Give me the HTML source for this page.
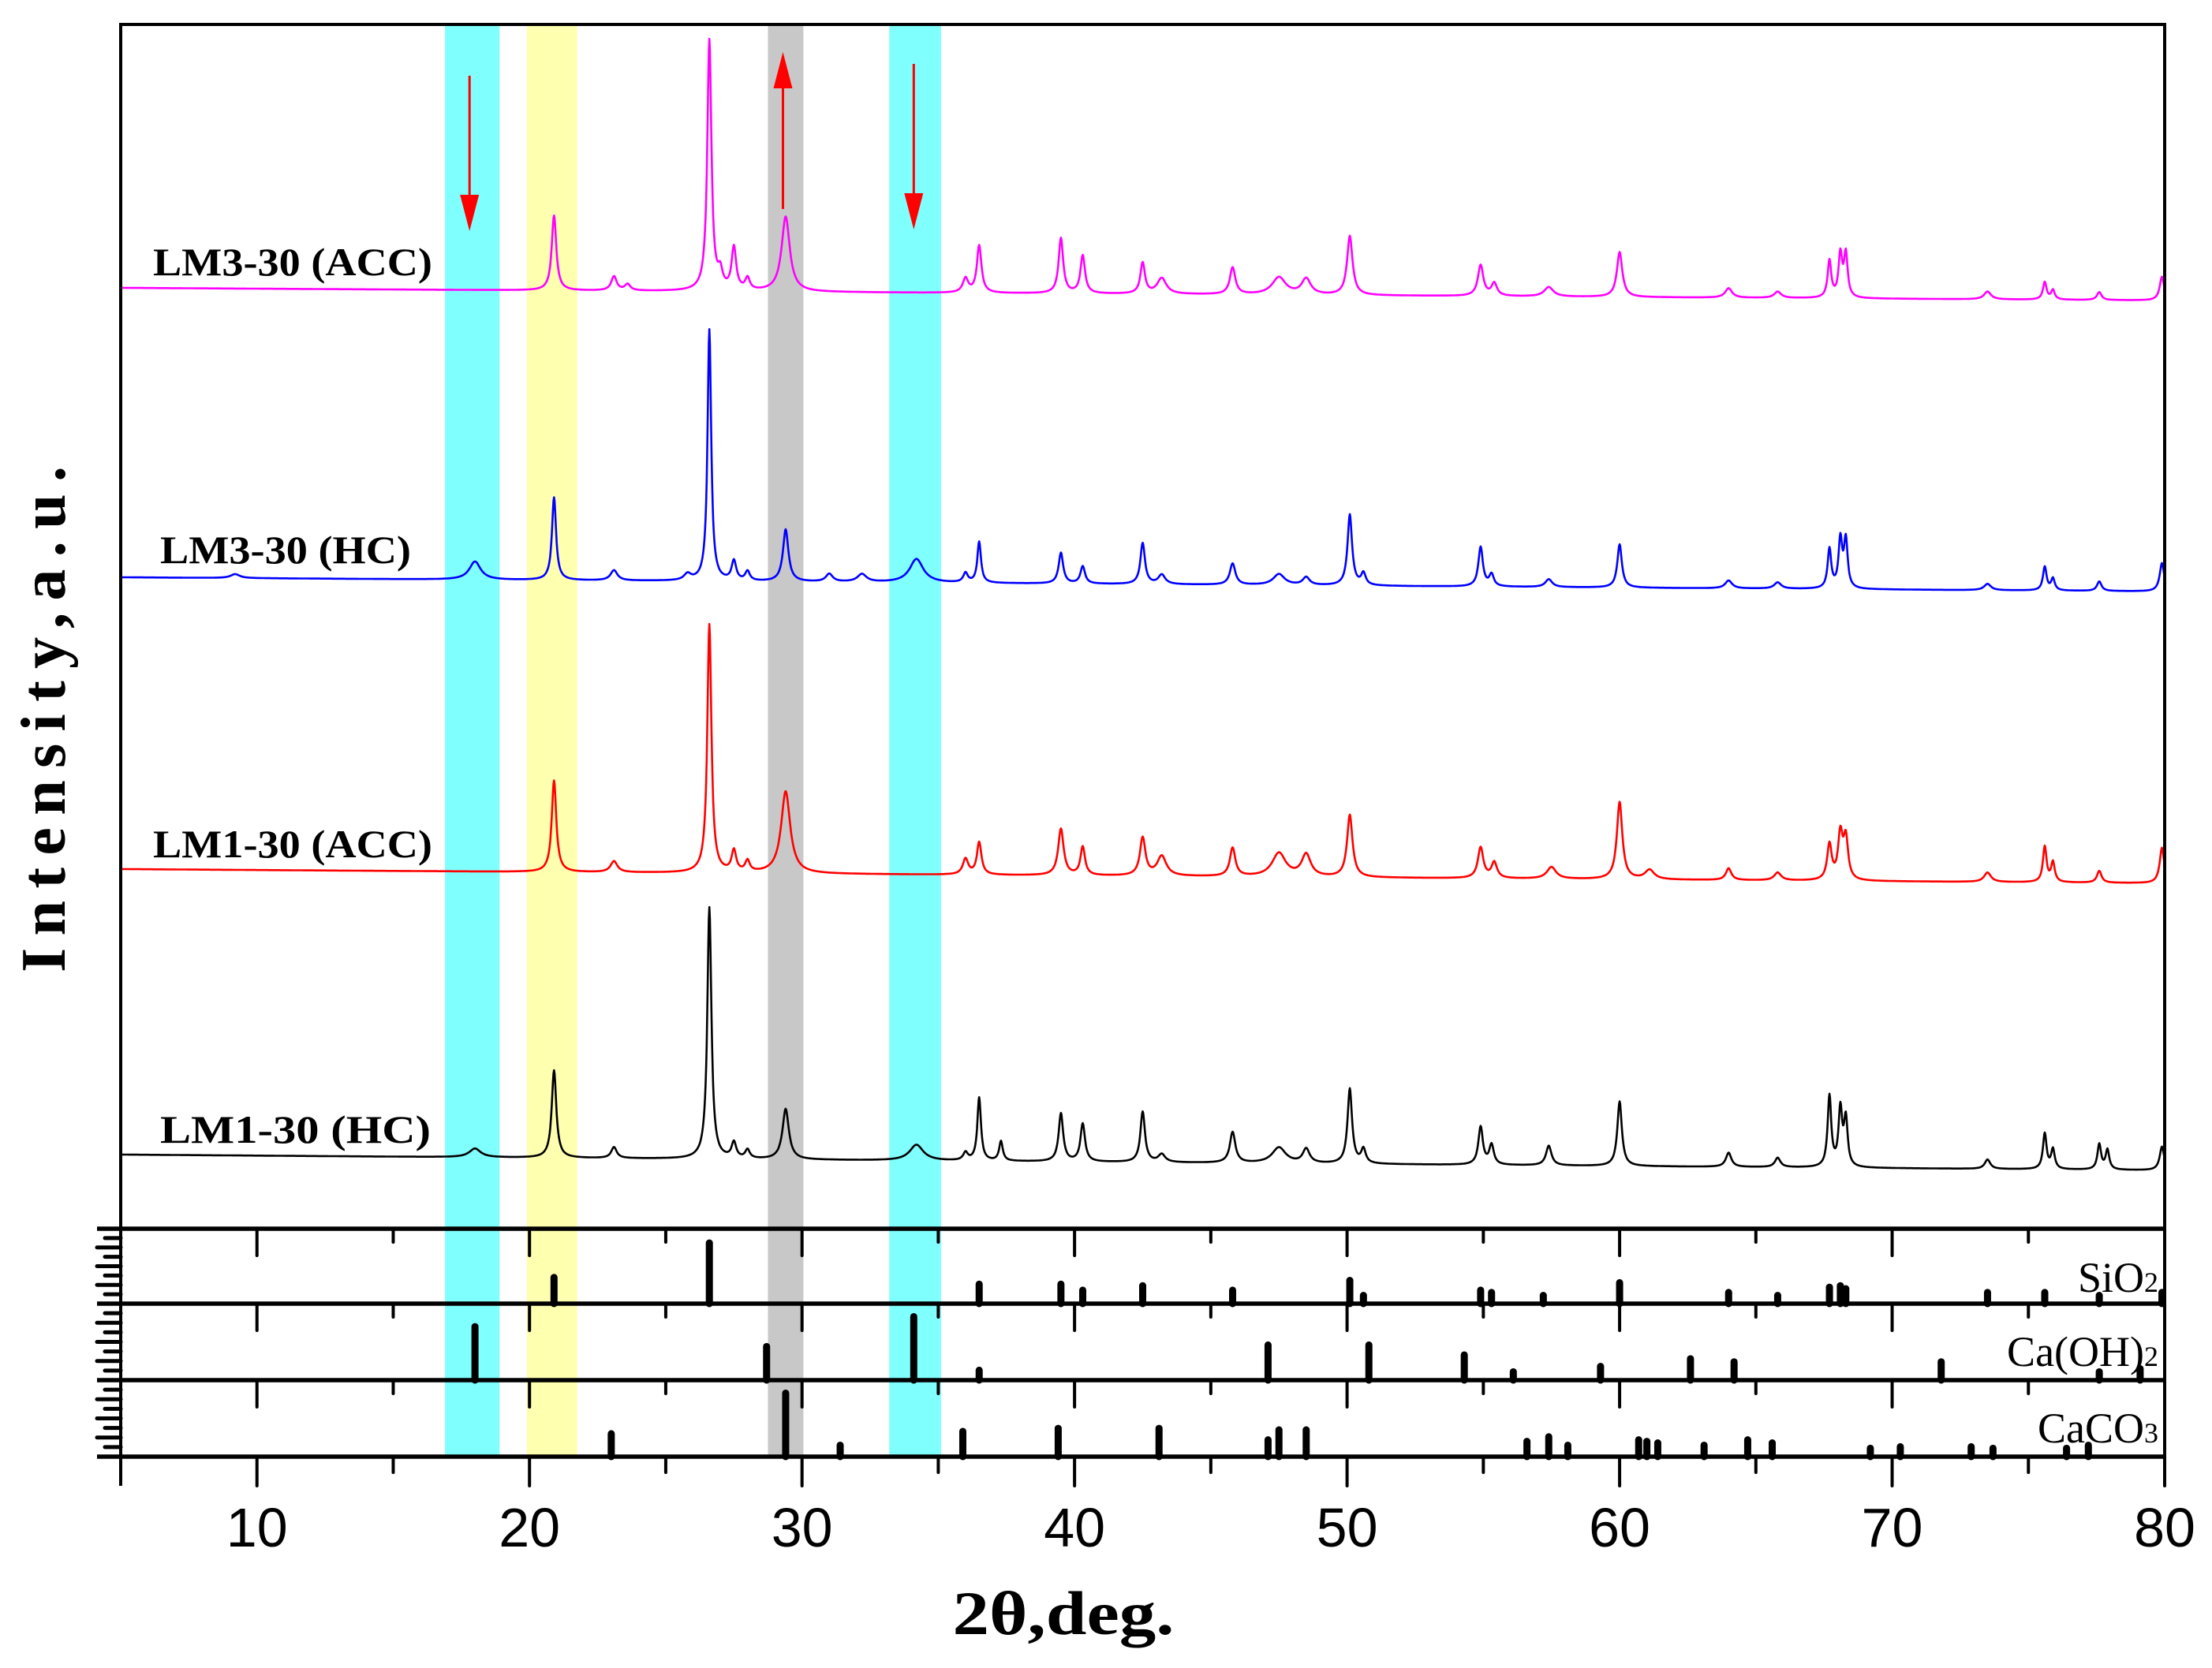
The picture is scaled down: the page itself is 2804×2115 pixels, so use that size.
<!DOCTYPE html>
<html><head><meta charset="utf-8"><style>
html,body{margin:0;padding:0;background:#fff;}
svg{display:block;}
</style></head><body>
<svg id="chart" width="2804" height="2115" viewBox="0 0 2804 2115" xmlns="http://www.w3.org/2000/svg">
<g id="bands"></g>
<g id="series"></g>
<g id="refs"></g>
<g id="axes"></g>
<g id="labels"></g>
</svg>
<script>
// ---- data ----
const xTicks = [10,20,30,40,50,60,70,80];
const bandRanges = [[16.9,18.9,'#80ffff'],[19.9,21.75,'#ffffb0'],[28.75,30.05,'#c8c8c8'],[33.2,35.1,'#80ffff']];
const seriesNames = ['LM1-30 (HC)','LM1-30 (ACC)','LM3-30 (HC)','LM3-30 (ACC)'];
const seriesColors = ['#000000','#ff0000','#0000ff','#ff00ff'];
const seriesBaseStart = [94,456,826,1193];
const seriesBaseEnd = [74,438,808,1177];
// peaks: [2theta, height, width]
const peaksLM1HC = [[18.0,11,0.25],[20.9,111,0.1],[23.1,14,0.12],[26.6,319,0.09],[27.5,20,0.1],[28.0,11,0.1],[29.4,64,0.14],[34.2,20,0.3],[36.0,10,0.1],[36.5,80,0.08],[37.3,25,0.08],[39.5,61,0.1],[40.3,48,0.1],[42.5,64,0.1],[43.2,10,0.15],[45.8,39,0.12],[47.5,20,0.3],[48.5,18,0.15],[50.1,95,0.1],[50.6,18,0.1],[54.9,48,0.1],[55.3,25,0.1],[57.4,25,0.12],[60.0,82,0.1],[64.0,18,0.12],[65.8,12,0.12],[67.7,90,0.08],[68.1,72,0.08],[68.3,60,0.08],[73.5,12,0.12],[75.6,45,0.08],[75.9,25,0.08],[77.6,32,0.08],[77.9,25,0.08],[79.9,30,0.1]];
const peaksLM1ACC = [[20.9,116,0.1],[23.1,14,0.15],[26.6,315,0.09],[27.5,27,0.1],[28.0,14,0.1],[29.4,104,0.2],[36.0,20,0.12],[36.5,41,0.1],[39.5,59,0.12],[40.3,36,0.1],[42.5,48,0.12],[43.2,25,0.2],[45.8,36,0.12],[47.5,30,0.3],[48.5,28,0.2],[50.1,79,0.12],[54.9,39,0.12],[55.4,20,0.12],[57.5,15,0.2],[60.0,98,0.12],[61.1,12,0.2],[64.0,15,0.12],[65.8,10,0.15],[67.7,45,0.1],[68.1,57,0.1],[68.3,52,0.1],[73.5,12,0.15],[75.6,45,0.08],[75.9,25,0.08],[77.6,15,0.1],[79.9,45,0.1]];
const peaksLM3HC = [[9.2,5,0.2],[18.0,23,0.25],[20.9,105,0.09],[23.1,13,0.15],[25.8,8,0.15],[26.6,319,0.08],[27.5,25,0.1],[28.0,12,0.1],[29.4,66,0.12],[31.0,10,0.15],[32.2,10,0.2],[34.2,30,0.3],[36.0,12,0.1],[36.5,52,0.08],[39.5,39,0.1],[40.3,22,0.1],[42.5,52,0.1],[43.2,12,0.15],[45.8,27,0.12],[47.5,14,0.25],[48.5,10,0.15],[50.1,90,0.1],[50.6,15,0.1],[54.9,50,0.1],[55.3,15,0.1],[57.4,10,0.15],[60.0,55,0.1],[64.0,10,0.15],[65.8,8,0.15],[67.7,50,0.08],[68.1,61,0.08],[68.3,61,0.08],[73.5,8,0.15],[75.6,30,0.08],[75.9,15,0.08],[77.6,12,0.1],[79.9,36,0.1]];
const peaksLM3ACC = [[20.9,95,0.1],[23.1,18,0.12],[23.6,8,0.12],[26.6,318,0.09],[27.0,20,0.1],[27.5,54,0.1],[28.0,15,0.1],[29.4,95,0.18],[36.0,18,0.12],[36.5,60,0.1],[39.5,70,0.1],[40.3,48,0.1],[42.5,39,0.1],[43.2,20,0.2],[45.8,34,0.12],[47.5,22,0.3],[48.5,20,0.2],[50.1,75,0.12],[54.9,39,0.12],[55.4,16,0.12],[57.4,12,0.2],[60.0,57,0.12],[64.0,12,0.15],[65.8,8,0.15],[67.7,47,0.08],[68.1,54,0.08],[68.3,55,0.08],[73.5,10,0.15],[75.6,22,0.08],[75.9,12,0.08],[77.6,10,0.1],[79.9,30,0.1]];
const seriesPeaks = [peaksLM1HC,peaksLM1ACC,peaksLM3HC,peaksLM3ACC];
// reference sticks: [2theta, relative intensity %]
const refSiO2 = [[20.9,35],[26.6,81],[36.5,26],[39.5,26],[40.3,18],[42.5,24],[45.8,18],[50.1,31],[50.6,11],[54.9,18],[55.3,15],[57.2,11],[60.0,28],[64.0,15],[65.8,11],[67.7,22],[68.1,24],[68.3,20],[73.5,15],[75.6,15],[77.6,11],[79.9,15]];
const refCaOH2 = [[18.0,70],[28.7,44],[34.1,83],[36.5,13],[47.1,46],[50.8,46],[54.3,33],[56.1,11],[59.3,18],[62.6,28],[64.2,24],[71.8,24],[77.6,11],[79.1,15]];
const refCaCO3 = [[23.0,30],[29.4,83],[31.4,15],[35.9,33],[39.4,37],[43.1,37],[47.1,22],[47.5,35],[48.5,35],[56.6,20],[57.4,26],[58.1,15],[60.7,22],[61.0,20],[61.4,18],[63.1,15],[64.7,22],[65.6,18],[69.2,11],[70.3,13],[72.9,13],[73.7,11],[76.4,11],[77.2,15]];
const refNames = ['SiO2','Ca(OH)2','CaCO3'];

// ---- layout ----
const NS='http://www.w3.org/2000/svg';
const L=153, R=2744, T=31, MB=1558;
const panelTops=[1558,1653,1750], PH=[95,97,97], BOT=1847;
const xS = d => L + (d-5)*(R-L)/75;
const yS = v => MB - v;
function mk(tag, attrs, parent){const e=document.createElementNS(NS,tag);for(const k in attrs)e.setAttribute(k,attrs[k]);parent.appendChild(e);return e;}
const gB=document.getElementById('bands'), gS=document.getElementById('series'), gR=document.getElementById('refs'), gA=document.getElementById('axes'), gL=document.getElementById('labels');

bandRanges.forEach((b,i)=>{
  const r=mk('rect',{x:xS(b[0]),y:T,width:xS(b[1])-xS(b[0]),height:BOT-T,fill:b[2]},gB);
  
  
});

seriesPeaks.forEach((pk,si)=>{
  let d='';
  for(let x=5; x<=80.0001; x+=0.02){
    let v=seriesBaseStart[si]+(seriesBaseEnd[si]-seriesBaseStart[si])*(x-5)/75;
    for(const p of pk){const t=(x-p[0])/p[2];v+=p[1]/(1+t*t);}
    d+=(d?'L':'M')+xS(x).toFixed(1)+' '+yS(v).toFixed(1);
  }
  const path=mk('path',{d:d,fill:'none',stroke:seriesColors[si],'stroke-width':2.6,'stroke-linejoin':'round'},gS);
  
  
});

// arrows
const arrowDefs=[[17.8,96,293,'down'],[29.3,265,66,'up'],[34.1,81,291,'down']];
arrowDefs.forEach((a,i)=>{
  const x=xS(a[0]); const g=mk('g',{},gS);
  
  
  const dir=a[3]==='down'?1:-1; const headLen=46;
  mk('line',{x1:x,y1:a[1],x2:x,y2:a[2]-dir*headLen,stroke:'#ff0000','stroke-width':3},g);
  mk('polygon',{points:`${x-12},${a[2]-dir*headLen} ${x+12},${a[2]-dir*headLen} ${x},${a[2]}`,fill:'#ff0000'},g);
});

// reference sticks
[refSiO2,refCaOH2,refCaCO3].forEach((ref,pi)=>{
  const base=panelTops[pi]+PH[pi];
  ref.forEach(s=>{
    const l=mk('line',{x1:xS(s[0]),x2:xS(s[0]),y1:base,y2:base-s[1]/100*PH[pi],stroke:'#000','stroke-width':9,'stroke-linecap':'round'},gR);
    
    
  });
});

// axes
const frame=mk('path',{d:`M${L} ${MB} V${T} H${R} V${MB}`,fill:'none',stroke:'#000','stroke-width':4},gA);


[1558,1653,1750,1847].forEach(y=>{ mk('line',{x1:L-30,x2:R,y1:y,y2:y,stroke:'#000','stroke-width':5.5},gA); });
mk('line',{x1:L,x2:L,y1:MB,y2:1884,stroke:'#000','stroke-width':4},gA);
mk('line',{x1:R,x2:R,y1:MB,y2:BOT,stroke:'#000','stroke-width':4},gA);
panelTops.forEach((pt,pi)=>{ for(let k=1;k<8;k++){ const y=pt+k*PH[pi]/8; mk('line',{x1:L-(k%2?20:30),x2:L,y1:y,y2:y,stroke:'#000','stroke-width':5,'stroke-linecap':'round'},gA);} });
for(let d=5; d<=80; d+=5){
  const x=xS(d), major=d%10===0;
  panelTops.forEach(pt=>{ if(d>5&&d<80) mk('line',{x1:x,x2:x,y1:pt,y2:pt+(major?34:17),stroke:'#000','stroke-width':4,'stroke-linecap':'round'},gA); });
  mk('line',{x1:x,x2:x,y1:BOT,y2:BOT+(major?37:20),stroke:'#000','stroke-width':4,'stroke-linecap':'round'},gA);
}
xTicks.forEach(t=>{
  const tx=mk('text',{x:xS(t),y:1961,'text-anchor':'middle','font-family':'Liberation Sans, Arial, sans-serif','font-size':70},gA);
  tx.textContent=t;
  
  
});

// labels
const labelPos=[[203,1449,343],[194,1087,354],[203,714,318],[194,349,354]];
seriesNames.forEach((n,i)=>{
  const tx=mk('text',{x:labelPos[i][0],y:labelPos[i][1],'font-family':'Liberation Serif, serif','font-weight':'bold','font-size':50,textLength:labelPos[i][2],lengthAdjust:'spacingAndGlyphs'},gL);
  tx.textContent=n;
  
  
});
function refLabel(main,sub,y){
  const tx=mk('text',{x:2736,y:y,'text-anchor':'end','font-family':'Liberation Serif, serif','font-size':54},gL);
  
  
  const a=mk('tspan',{},tx); a.textContent=main;
  const b=mk('tspan',{'font-size':36},tx); b.textContent=sub;
}
refLabel('SiO','2',1638);
refLabel('Ca(OH)','2',1732);
refLabel('CaCO','3',1829);
const yt=mk('text',{x:0,y:0,transform:'translate(82,912) rotate(-90)','text-anchor':'middle','font-family':'Liberation Serif, serif','font-weight':'bold','font-size':80,textLength:642,lengthAdjust:'spacing'},gL);
yt.textContent='Intensity,a.u.';


const xt=mk('text',{x:1348,y:2072,'text-anchor':'middle','font-family':'Liberation Serif, serif','font-weight':'bold','font-size':78,textLength:281,lengthAdjust:'spacingAndGlyphs'},gL);
xt.textContent='2θ,deg.';


</script>
</body></html>
